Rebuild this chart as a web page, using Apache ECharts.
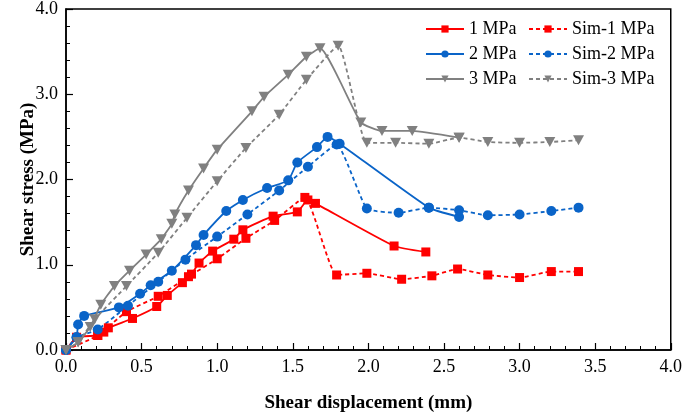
<!DOCTYPE html>
<html>
<head>
<meta charset="utf-8">
<script src="https://cdn.jsdelivr.net/npm/echarts@6/dist/echarts.min.js"></script>
<style>html,body{margin:0;padding:0;background:#fff;}#c{width:685px;height:418px;}</style>
</head>
<body>
<div id="c"></div>
<script>
var seriesNames = ['1 MPa', 'Sim-1 MPa', '2 MPa', 'Sim-2 MPa', '3 MPa', 'Sim-3 MPa'];
var xTicks = ['0.0','0.5','1.0','1.5','2.0','2.5','3.0','3.5','4.0'];
var yTicks = ['0.0','1.0','2.0','3.0','4.0'];

var exp1 = [[0,0],[0.07,0.15],[0.21,0.17],[0.25,0.21],[0.28,0.26],[0.44,0.37],[0.60,0.51],[0.67,0.64],[0.77,0.79],[0.83,0.89],[0.88,1.02],[0.97,1.16],[1.11,1.30],[1.17,1.41],[1.37,1.57],[1.53,1.62],[1.60,1.76],[1.65,1.72],[2.17,1.22],[2.38,1.15]];
var sim1 = [[0,0],[0.21,0.17],[0.40,0.45],[0.61,0.63],[0.81,0.86],[1.00,1.07],[1.19,1.31],[1.38,1.52],[1.58,1.79],[1.79,0.88],[1.99,0.90],[2.22,0.83],[2.42,0.87],[2.59,0.95],[2.79,0.88],[3.00,0.85],[3.21,0.92],[3.39,0.92]];
var exp2 = [[0,0],[0.07,0.15],[0.08,0.30],[0.12,0.40],[0.35,0.50],[0.49,0.66],[0.56,0.76],[0.70,0.93],[0.86,1.23],[0.91,1.35],[1.06,1.63],[1.17,1.76],[1.33,1.90],[1.47,1.99],[1.53,2.20],[1.66,2.38],[1.73,2.50],[1.81,2.42],[2.40,1.67],[2.60,1.56]];
var sim2 = [[0,0],[0.07,0.15],[0.21,0.24],[0.41,0.52],[0.61,0.80],[0.79,1.06],[1.00,1.33],[1.20,1.59],[1.41,1.87],[1.60,2.15],[1.79,2.41],[1.99,1.66],[2.20,1.61],[2.40,1.67],[2.60,1.64],[2.79,1.58],[3.00,1.59],[3.21,1.63],[3.39,1.67]];
var exp3 = [[0,0],[0.08,0.09],[0.16,0.27],[0.23,0.53],[0.32,0.75],[0.42,0.93],[0.53,1.12],[0.63,1.30],[0.70,1.48],[0.72,1.59],[0.81,1.87],[0.91,2.13],[1.00,2.35],[1.23,2.80],[1.31,2.97],[1.47,3.23],[1.59,3.44],[1.68,3.54],[1.95,2.67],[2.09,2.57],[2.29,2.57],[2.60,2.49]];
var sim3 = [[0,0],[0.08,0.09],[0.19,0.36],[0.40,0.75],[0.61,1.14],[0.80,1.55],[1.00,1.98],[1.19,2.37],[1.41,2.76],[1.59,3.17],[1.80,3.57],[1.99,2.43],[2.18,2.43],[2.40,2.42],[2.60,2.49],[2.79,2.44],[3.00,2.43],[3.20,2.44],[3.39,2.46]];

var RED = '#FF0000', BLUE = '#0A64C8', GRAY = '#808080';
var FONT = 'Liberation Serif';
var TRI = 'path://M0,0 L10,0 L5,9 Z';

function mk(name, data, color, dashed, symbol, size) {
  return {
    name: name, type: 'line', data: data, smooth: 0.15,
    symbol: symbol, symbolSize: size,
    lineStyle: { color: color, width: 1.8, type: dashed ? [4, 3] : 'solid' },
    itemStyle: { color: color },
    emphasis: { disabled: true }, animation: false
  };
}

var chart = echarts.init(document.getElementById('c'));
var legendText = { fontFamily: FONT, fontSize: 18, color: '#000' };
chart.setOption({
  animation: false,
  grid: { left: 66, right: 13, top: 9, bottom: 65, show: true, borderColor: '#000', borderWidth: 1.5 },
  legend: [
    { data: [seriesNames[0], seriesNames[2], seriesNames[4]], orient: 'vertical', left: 425, top: 20, padding: 0, itemWidth: 38, itemHeight: 9, itemGap: 7, textStyle: legendText },
    { data: [seriesNames[1], seriesNames[3], seriesNames[5]], orient: 'vertical', left: 528, top: 20, padding: 0, itemWidth: 38, itemHeight: 9, itemGap: 7, textStyle: legendText }
  ],
  xAxis: {
    type: 'value', min: 0, max: 4, interval: 0.5,
    name: 'Shear displacement (mm)', nameLocation: 'middle', nameGap: 44, nameMoveOverlap: false,
    nameTextStyle: { fontFamily: FONT, fontSize: 19, fontWeight: 'bold', color: '#000' },
    axisLine: { lineStyle: { color: '#000', width: 1.5 } },
    axisTick: { inside: true, length: 7, lineStyle: { color: '#000', width: 1.2 } },
    minorTick: { show: true, splitNumber: 5, length: 4, lineStyle: { color: '#000', width: 1 } },
    axisLabel: { fontFamily: FONT, fontSize: 18, color: '#000', margin: 8,
      formatter: function (v) { return xTicks[Math.round(v / 0.5)]; } },
    splitLine: { show: false }
  },
  yAxis: {
    type: 'value', min: 0, max: 4, interval: 1,
    name: 'Shear stress (MPa)', nameLocation: 'middle', nameGap: 28, nameMoveOverlap: false,
    nameTextStyle: { fontFamily: FONT, fontSize: 19, fontWeight: 'bold', color: '#000' },
    axisLine: { show: true, lineStyle: { color: '#000', width: 1.5 } },
    axisTick: { show: true, inside: true, length: 7, lineStyle: { color: '#000', width: 1.2 } },
    minorTick: { show: true, splitNumber: 5, length: 4, lineStyle: { color: '#000', width: 1 } },
    axisLabel: { fontFamily: FONT, fontSize: 18, color: '#000', margin: 8,
      formatter: function (v) { return yTicks[Math.round(v)]; } },
    splitLine: { show: false }
  },
  series: [
    mk(seriesNames[0], exp1, RED, false, 'rect', 9),
    mk(seriesNames[1], sim1, RED, true, 'rect', 9),
    mk(seriesNames[2], exp2, BLUE, false, 'circle', 10),
    mk(seriesNames[3], sim2, BLUE, true, 'circle', 10),
    mk(seriesNames[4], exp3, GRAY, false, TRI, [11, 10]),
    mk(seriesNames[5], sim3, GRAY, true, TRI, [11, 10])
  ]
});
</script>
</body>
</html>
